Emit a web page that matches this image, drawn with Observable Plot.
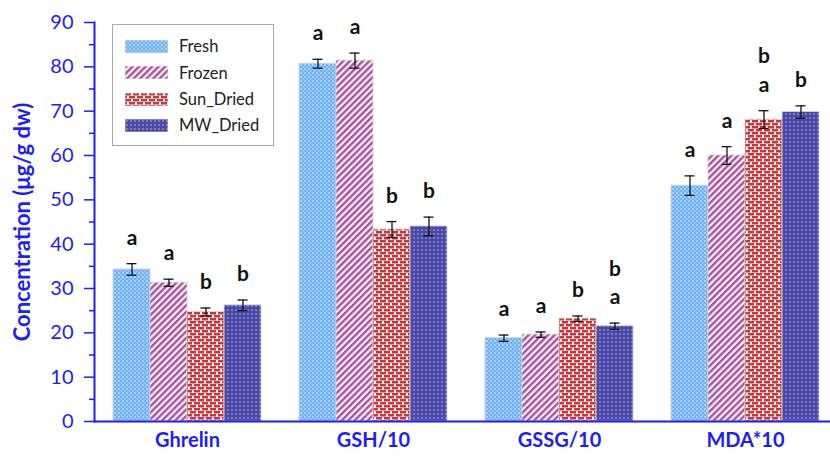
<!DOCTYPE html>
<html>
<head>
<meta charset="utf-8">
<script src="https://cdn.jsdelivr.net/npm/d3@7"></script>
<script src="https://cdn.jsdelivr.net/npm/@observablehq/plot@0.6"></script>
<style>
  html, body { margin: 0; padding: 0; background: #fff; }
  #wrap { position: relative; width: 830px; height: 458px; font-family: Lato, "Open Sans", sans-serif; }
  #legend { position: absolute; left: 112px; top: 24px; width: 160px; height: 120px; border: 1px solid #a8a8a8; background: #fff; }
  .item { position: absolute; left: 12px; height: 20px; display: flex; align-items: center; font-size: 16.5px; color: #222; }
  .item svg { margin-right: 11px; display: block; }
</style>
</head>
<body>
<svg width="0" height="0" style="position:absolute">
  <defs>
    <pattern id="pFresh" width="4" height="4" patternUnits="userSpaceOnUse">
      <rect width="4" height="4" fill="#6fb1f7"/>
      <circle cx="1" cy="1" r="1" fill="#bfdffd"/>
      <circle cx="3" cy="3" r="0.9" fill="#a3cdfb"/>
    </pattern>
    <pattern id="pFrozen" width="4.6" height="4.6" patternUnits="userSpaceOnUse" patternTransform="rotate(45)">
      <rect width="4.6" height="4.6" fill="#fbf3fa"/>
      <rect width="2.4" height="4.6" fill="#a9529f"/>
    </pattern>
    <pattern id="pSun" width="8" height="6" patternUnits="userSpaceOnUse">
      <rect width="8" height="6" fill="#fdf0f0"/>
      <rect x="0" y="0" width="6" height="2.5" fill="#c4393c"/>
      <rect x="4" y="3" width="4" height="2.5" fill="#c4393c"/>
      <rect x="0" y="3" width="2" height="2.5" fill="#c4393c"/>
    </pattern>
    <pattern id="pMW" width="4" height="4" patternUnits="userSpaceOnUse">
      <rect width="4" height="4" fill="#4a49a7"/>
      <circle cx="2" cy="2" r="0.8" fill="#b9b8e6"/>
    </pattern>
  </defs>
</svg>
<div id="wrap">
  <div id="chart"></div>
  <div id="legend"></div>
</div>
<script>
// ---- data ----
const groups = ["Ghrelin", "GSH/10", "GSSG/10", "MDA*10"];
const series = ["Fresh", "Frozen", "Sun_Dried", "MW_Dried"];
const freshValues = [34.3, 80.7, 18.8, 53.2];
const frozenValues = [31.3, 81.4, 19.6, 60.0];
const sunDriedValues = [24.7, 43.3, 23.2, 68.1];
const mwDriedValues = [26.2, 44.0, 21.5, 69.8];
const freshErrors = [1.3, 1.0, 0.7, 2.2];
const frozenErrors = [0.8, 1.7, 0.6, 2.0];
const sunDriedErrors = [0.9, 1.8, 0.6, 2.0];
const mwDriedErrors = [1.2, 2.1, 0.7, 1.4];
const freshLetters = ["a", "a", "a", "a"];
const frozenLetters = ["a", "a", "a", "a"];
const sunDriedLetters = ["b", "b", "b", "b\na"];
const mwDriedLetters = ["b", "b", "b\na", "b"];
const yTicks = [0, 10, 20, 30, 40, 50, 60, 70, 80, 90];
const yMinorTicks = [5, 15, 25, 35, 45, 55, 65, 75, 85];
const yLabel = "Concentration (\u03bcg/g dw)";

// ---- styling ----
const blue = "#1c1cff";
const patterns = ["url(#pFresh)", "url(#pFrozen)", "url(#pSun)", "url(#pMW)"];

const valueLists = [freshValues, frozenValues, sunDriedValues, mwDriedValues];
const errorLists = [freshErrors, frozenErrors, sunDriedErrors, mwDriedErrors];
const letterLists = [freshLetters, frozenLetters, sunDriedLetters, mwDriedLetters];

const data = [];
groups.forEach((g, gi) => {
  series.forEach((s, si) => {
    data.push({group: g, series: s, value: valueLists[si][gi], err: errorLists[si][gi], letter: letterLists[si][gi]});
  });
});

const chart = Plot.plot({
  width: 830,
  height: 458,
  marginLeft: 92,
  marginRight: 0,
  marginTop: 22,
  marginBottom: 37,
  style: {fontFamily: "Lato, 'Open Sans', sans-serif", background: "#fff"},
  fx: {domain: groups, range: [92, 839], paddingInner: 0, paddingOuter: 0, label: null},
  x: {domain: series, paddingInner: 0, paddingOuter: 0.5, axis: null},
  y: {domain: [0, 90]},
  color: {domain: series, range: patterns},
  marks: [
    Plot.barY(data, {fx: "group", x: "series", y: "value", fill: "series", stroke: "#d4d4d4", strokeWidth: 0.8}),
    Plot.ruleX(data, {fx: "group", x: "series", y1: d => d.value - d.err, y2: d => d.value + d.err, stroke: "#111", strokeWidth: 1.3}),
    Plot.tickY(data, {fx: "group", x: "series", y: d => d.value + d.err, insetLeft: 13.5, insetRight: 13.5, stroke: "#111", strokeWidth: 1.3}),
    Plot.tickY(data, {fx: "group", x: "series", y: d => d.value - d.err, insetLeft: 13.5, insetRight: 13.5, stroke: "#111", strokeWidth: 1.3}),
    Plot.text(data, {fx: "group", x: "series", y: d => d.value + d.err, text: "letter", lineAnchor: "bottom", dy: -19, fontSize: 21, fontWeight: "bold", fill: "#111", lineHeight: 1.35}),
    Plot.ruleY([0], {stroke: blue, strokeWidth: 2}),
    Plot.frame({anchor: "left", facetAnchor: "left", stroke: blue, strokeWidth: 2}),
    Plot.axisY({ticks: yTicks, tickSize: 10, tickPadding: 11, fontSize: 20, color: blue, strokeWidth: 1.5, label: null}),
    Plot.axisY({ticks: yMinorTicks, tickSize: 5, tickFormat: () => "", color: blue, strokeWidth: 1.5, label: null}),
    Plot.axisY({ticks: [], label: yLabel, labelAnchor: "center", labelOffset: 80, labelArrow: "none", fontSize: 22, fontWeight: "bold", color: blue}),
    Plot.axisFx({anchor: "bottom", tickSize: 0, tickPadding: 11, fontSize: 20, fontWeight: "bold", color: blue, label: null})
  ]
});
document.getElementById("chart").appendChild(chart);

// ---- legend ----
const legend = document.getElementById("legend");
const rowCenters = [21, 47.5, 74, 100];
series.forEach((s, i) => {
  const row = document.createElement("div");
  row.className = "item";
  row.style.top = (rowCenters[i] - 10) + "px";
  row.innerHTML = `<svg width="43" height="13"><rect width="43" height="13" fill="${patterns[i]}" stroke="#ddd" stroke-width="0.8"/></svg><span>${s}</span>`;
  legend.appendChild(row);
});
</script>
</body>
</html>
